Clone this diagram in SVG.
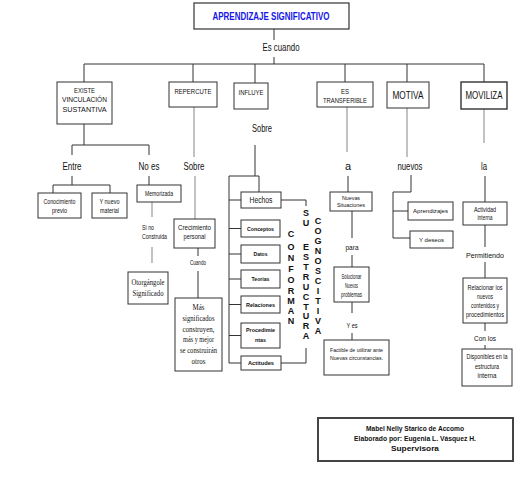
<svg xmlns="http://www.w3.org/2000/svg" width="531" height="480" viewBox="0 0 531 480">
<style>
text{font-family:"Liberation Sans",Arial,sans-serif;fill:#111;text-anchor:middle}
.box{fill:#fff;stroke:#333;stroke-width:1}
.c{fill:none;stroke:#333;stroke-width:1}
.g{fill:none;stroke:#999;stroke-width:1.2}
.lbl{font-size:11px}
.s6{font-size:6.3px}
.s55{font-size:5.8px}
.s75{font-size:8px}
.m{font-size:8px}
.b{font-weight:bold}
.serif{font-family:"Liberation Serif","Times New Roman",serif;font-size:8.5px}
.v{font-weight:bold;font-size:9px}
.sig{font-size:8px;font-weight:bold}
</style>
<rect width="531" height="480" fill="#fff"/>
<g id="connectors">
<path class="c" d="M274 29V40M274 57V64M84 64H484M84 64V82M193 64V82M255 64V83M345 64V82M407 64V82M484 64V82"/>
<path class="c" d="M84 124V145M72 145H149M72 145V155M149 145V155M72 176V185M53 185H110M53 185V193M110 185V193M149 176V185"/>
<path class="g" d="M152 202V217M152 247V263"/>
<path class="g" d="M194 107V157M195 176V219"/>
<path class="c" d="M198 248V256M198 271V298"/>
<path class="c" d="M255 145V176M229 176H259V192M229 176V363M229 200H241M229 228.5H241M229 254H241M229 279H241M229 304.5H241M229 335.5H241M229 363H241"/>
<path class="c" d="M281 200H306V206M281 363H306V348"/>
<path class="g" d="M347 107V152"/>
<path class="c" d="M348 176V192M352 211V238M352 255V267M352 302V313M352 333V340"/>
<path class="g" d="M407 108V157"/>
<path class="c" d="M411 175V192H393V238M393 211H408M393 238H410"/>
<path class="g" d="M484 109V143"/>
<path class="c" d="M485 176V202M485 225V247M485 262V278M485 323V331M485 345V349"/>
</g>
<g id="title"><rect x="194" y="3" width="155" height="26" fill="#fff" stroke="#333" stroke-width="1.2"/><text x="271" y="19.5" textLength="117" lengthAdjust="spacingAndGlyphs" style="font-size:10px;font-weight:bold;fill:#1515e8">APRENDIZAJE SIGNIFICATIVO</text></g>
<g id="es-cuando"><text x="281" y="51" textLength="37" lengthAdjust="spacingAndGlyphs" style="font-size:10.5px">Es cuando</text></g>
<g id="existe"><rect class="box" x="57" y="82" width="55" height="42"/><text class="s75" x="84.5" y="92.5" textLength="21" lengthAdjust="spacingAndGlyphs">EXISTE</text><text class="s75" x="84.5" y="101.5" textLength="45" lengthAdjust="spacingAndGlyphs">VINCULACIÓN</text><text class="s75" x="84.5" y="111.5" textLength="44" lengthAdjust="spacingAndGlyphs">SUSTANTIVA</text></g>
<g id="repercute"><rect class="box" x="169" y="82" width="48" height="25"/><text class="s75" x="193" y="93.5" textLength="37" lengthAdjust="spacingAndGlyphs">REPERCUTE</text></g>
<g id="influye"><rect class="box" x="234" y="83" width="34" height="26"/><text class="s75" x="251" y="94.5" textLength="25" lengthAdjust="spacingAndGlyphs">INFLUYE</text></g>
<g id="transferible"><rect class="box" x="317" y="82" width="56" height="25"/><text class="s75" x="345" y="93.5" textLength="8" lengthAdjust="spacingAndGlyphs">ES</text><text class="s75" x="345" y="102.5" textLength="44" lengthAdjust="spacingAndGlyphs">TRANSFERIBLE</text></g>
<g id="motiva"><rect class="box" x="387" y="82" width="42" height="26"/><text x="408" y="98.5" textLength="31" lengthAdjust="spacingAndGlyphs" style="font-size:10.5px">MOTIVA</text></g>
<g id="moviliza"><rect class="box" x="461" y="82" width="46" height="27" style="stroke-width:1.4"/><text x="484" y="98.5" textLength="37" lengthAdjust="spacingAndGlyphs" style="font-size:10.5px">MOVILIZA</text></g>
<g id="entre"><text class="lbl" x="72" y="170" textLength="19" lengthAdjust="spacingAndGlyphs">Entre</text></g>
<g id="noes"><text class="lbl" x="149" y="170" textLength="21" lengthAdjust="spacingAndGlyphs">No es</text></g>
<g id="sobre1"><text class="lbl" x="194" y="170" textLength="21" lengthAdjust="spacingAndGlyphs">Sobre</text></g>
<g id="sobre2"><text class="lbl" x="262" y="132" textLength="20" lengthAdjust="spacingAndGlyphs">Sobre</text></g>
<g id="a"><text class="lbl" x="348" y="170">a</text></g>
<g id="nuevos"><text class="lbl" x="410" y="170" textLength="25" lengthAdjust="spacingAndGlyphs">nuevos</text></g>
<g id="la"><text class="lbl" x="484" y="170" textLength="6" lengthAdjust="spacingAndGlyphs">la</text></g>
<g id="conocimiento"><rect class="box" x="38" y="193" width="43" height="25"/><text class="s6" x="59.5" y="204" textLength="32" lengthAdjust="spacingAndGlyphs">Conocimiento</text><text class="s6" x="59.5" y="213" textLength="15" lengthAdjust="spacingAndGlyphs">previo</text></g>
<g id="ynuevo"><rect class="box" x="92" y="193" width="35" height="25"/><text class="s6" x="109.5" y="204" textLength="20" lengthAdjust="spacingAndGlyphs">Y nuevo</text><text class="s6" x="109.5" y="213" textLength="19" lengthAdjust="spacingAndGlyphs">material</text></g>
<g id="memorizada"><rect class="box" x="137" y="185" width="44" height="17"/><text class="s6" x="159" y="195.5" textLength="28" lengthAdjust="spacingAndGlyphs">Memorizada</text></g>
<g id="sino"><text x="142" y="229.5" textLength="12" lengthAdjust="spacingAndGlyphs" style="font-size:6.5px;text-anchor:start">Si no</text><text x="142" y="239" textLength="25" lengthAdjust="spacingAndGlyphs" style="font-size:6.5px;text-anchor:start">Construida</text></g>
<g id="otorgangole"><rect class="box" x="128" y="272" width="40" height="32"/><text class="serif" x="148" y="285" textLength="33" lengthAdjust="spacingAndGlyphs">Otorgángole</text><text class="serif" x="148" y="296" textLength="31" lengthAdjust="spacingAndGlyphs">Significado</text></g>
<g id="crecimiento"><rect class="box" x="174" y="219" width="41" height="29"/><text class="s6" x="194.5" y="229.5" textLength="33" lengthAdjust="spacingAndGlyphs">Crecimiento</text><text class="s6" x="194.5" y="238.5" textLength="22" lengthAdjust="spacingAndGlyphs">personal</text></g>
<g id="cuando"><text x="198" y="264.5" textLength="16" lengthAdjust="spacingAndGlyphs" style="font-size:6.5px">Cuando</text></g>
<g id="mas"><rect class="box" x="175" y="298" width="47" height="73"/><text class="serif" x="198.5" y="310" textLength="12" lengthAdjust="spacingAndGlyphs">Más</text><text class="serif" x="198.5" y="321" textLength="32" lengthAdjust="spacingAndGlyphs">significados</text><text class="serif" x="198.5" y="332" textLength="32" lengthAdjust="spacingAndGlyphs">construyen,</text><text class="serif" x="198.5" y="342" textLength="31" lengthAdjust="spacingAndGlyphs">más y mejor</text><text class="serif" x="198.5" y="353" textLength="37" lengthAdjust="spacingAndGlyphs">se construirán</text><text class="serif" x="198.5" y="364" textLength="14" lengthAdjust="spacingAndGlyphs">otros</text></g>
<g id="hechos"><rect class="box" x="241" y="192" width="40" height="16"/><text x="261" y="203" textLength="23" lengthAdjust="spacingAndGlyphs" style="font-size:8.5px">Hechos</text></g>
<g id="conceptos"><rect class="box" x="241" y="220" width="39" height="17"/><text class="s55 b" x="260.5" y="230.5" textLength="27" lengthAdjust="spacingAndGlyphs">Conceptos</text></g>
<g id="datos"><rect class="box" x="241" y="245" width="39" height="18"/><text class="s55 b" x="260.5" y="256" textLength="14" lengthAdjust="spacingAndGlyphs">Datos</text></g>
<g id="teorias"><rect class="box" x="241" y="270" width="39" height="18"/><text class="s55 b" x="260.5" y="281" textLength="18" lengthAdjust="spacingAndGlyphs">Teorías</text></g>
<g id="relaciones"><rect class="box" x="241" y="296" width="39" height="17"/><text class="s55 b" x="260.5" y="306.5" textLength="29" lengthAdjust="spacingAndGlyphs">Relaciones</text></g>
<g id="procedimientos"><rect class="box" x="241" y="323" width="39" height="25"/><text class="s55 b" x="260.5" y="332" textLength="29" lengthAdjust="spacingAndGlyphs">Procedimie</text><text class="s55 b" x="260.5" y="342" textLength="11" lengthAdjust="spacingAndGlyphs">ntas</text></g>
<g id="actitudes"><rect class="box" x="241" y="356" width="40" height="14"/><text class="s55 b" x="261" y="365" textLength="26" lengthAdjust="spacingAndGlyphs">Actitudes</text></g>
<g id="conforman"><text class="v" x="291" y="236.5">C</text><text class="v" x="291" y="249.5">O</text><text class="v" x="291" y="260.5">N</text><text class="v" x="291" y="271.5">F</text><text class="v" x="291" y="282.5">O</text><text class="v" x="291" y="293.5">R</text><text class="v" x="291" y="303.5">M</text><text class="v" x="291" y="313.5">A</text><text class="v" x="291" y="323.5">N</text></g>
<g id="suestructura"><text class="v" x="306" y="215.5">S</text><text class="v" x="306" y="225.5">U</text><text class="v" x="306" y="249.5">E</text><text class="v" x="306" y="259.5">S</text><text class="v" x="306" y="269.5">T</text><text class="v" x="306" y="279.5">R</text><text class="v" x="306" y="289.5">U</text><text class="v" x="306" y="299.5">C</text><text class="v" x="306" y="309.5">T</text><text class="v" x="306" y="318.5">U</text><text class="v" x="306" y="328.5">R</text><text class="v" x="306" y="338.5">A</text></g>
<g id="cognoscitiva"><text class="v" x="318" y="223.5">C</text><text class="v" x="318" y="233.5">O</text><text class="v" x="318" y="243.5">G</text><text class="v" x="318" y="253.5">N</text><text class="v" x="318" y="263.5">O</text><text class="v" x="318" y="273.5">S</text><text class="v" x="318" y="283.5">C</text><text class="v" x="318" y="293.5">I</text><text class="v" x="318" y="303.5">T</text><text class="v" x="318" y="313.5">I</text><text class="v" x="318" y="323.5">V</text><text class="v" x="318" y="333.5">A</text></g>
<g id="nuevas"><rect class="box" x="330" y="192" width="42" height="19"/><text class="s55" x="351" y="199.5" textLength="18" lengthAdjust="spacingAndGlyphs">Nuevas</text><text class="s55" x="351" y="207" textLength="28" lengthAdjust="spacingAndGlyphs">Situaciones</text></g>
<g id="para"><text class="m" x="352" y="250" textLength="13" lengthAdjust="spacingAndGlyphs">para</text></g>
<g id="solucionar"><rect class="box" x="334" y="267" width="35" height="35"/><text class="s6" x="351.5" y="279" textLength="20" lengthAdjust="spacingAndGlyphs">Solucionar</text><text class="s6" x="351.5" y="288" textLength="13" lengthAdjust="spacingAndGlyphs">Nuevos</text><text class="s6" x="351.5" y="297" textLength="21" lengthAdjust="spacingAndGlyphs">problemas</text></g>
<g id="yes"><text class="m" x="352" y="328" textLength="11" lengthAdjust="spacingAndGlyphs">Y es</text></g>
<g id="factible"><rect class="box" x="324" y="340" width="65" height="35"/><text class="s55" x="356.5" y="352" textLength="53" lengthAdjust="spacingAndGlyphs">Factible de utilizar ante</text><text class="s55" x="356.5" y="359.5" textLength="53" lengthAdjust="spacingAndGlyphs">Nuevas circunstancias.</text></g>
<g id="aprendizajes"><rect class="box" x="408" y="202" width="45" height="18"/><text class="s55" x="430.5" y="213" textLength="35" lengthAdjust="spacingAndGlyphs">Aprendizajes</text></g>
<g id="ydeseos"><rect class="box" x="410" y="231" width="43" height="17"/><text class="s55" x="431.5" y="241.5" textLength="25" lengthAdjust="spacingAndGlyphs">Y deseos</text></g>
<g id="actividad"><rect class="box" x="463" y="202" width="44" height="23"/><text class="s6" x="485" y="212" textLength="22" lengthAdjust="spacingAndGlyphs">Actividad</text><text class="s6" x="485" y="220" textLength="15" lengthAdjust="spacingAndGlyphs">interna</text></g>
<g id="permitiendo"><text class="m" x="485" y="258" textLength="38" lengthAdjust="spacingAndGlyphs">Permitiendo</text></g>
<g id="relacionar"><rect class="box" x="463" y="278" width="44" height="45"/><text class="s6" x="485" y="290" textLength="35" lengthAdjust="spacingAndGlyphs">Relacionar los</text><text class="s6" x="485" y="299" textLength="16" lengthAdjust="spacingAndGlyphs">nuevos</text><text class="s6" x="485" y="308" textLength="28" lengthAdjust="spacingAndGlyphs">contenidos y</text><text class="s6" x="485" y="317" textLength="38" lengthAdjust="spacingAndGlyphs">procedimientos</text></g>
<g id="conlos"><text class="m" x="485" y="341" textLength="22" lengthAdjust="spacingAndGlyphs">Con los</text></g>
<g id="disponibles"><rect class="box" x="462" y="349" width="50" height="37"/><text class="s6" x="487" y="359" textLength="41" lengthAdjust="spacingAndGlyphs">Disponibles en la</text><text class="s6" x="487" y="369" textLength="24" lengthAdjust="spacingAndGlyphs">estructura</text><text class="s6" x="487" y="378" textLength="19" lengthAdjust="spacingAndGlyphs">interna</text></g>
<g id="firma"><rect x="318" y="418" width="195" height="43" fill="#fff" stroke="#444" stroke-width="2"/><text class="sig" x="415" y="431" textLength="98" lengthAdjust="spacingAndGlyphs">Mabel Nelly Starico de Accomo</text><text class="sig" x="415" y="441" textLength="122" lengthAdjust="spacingAndGlyphs">Elaborado por:  Eugenia L. Vásquez H.</text><text class="sig" x="415" y="451" textLength="48" lengthAdjust="spacingAndGlyphs">Supervisora</text></g>
</svg>
